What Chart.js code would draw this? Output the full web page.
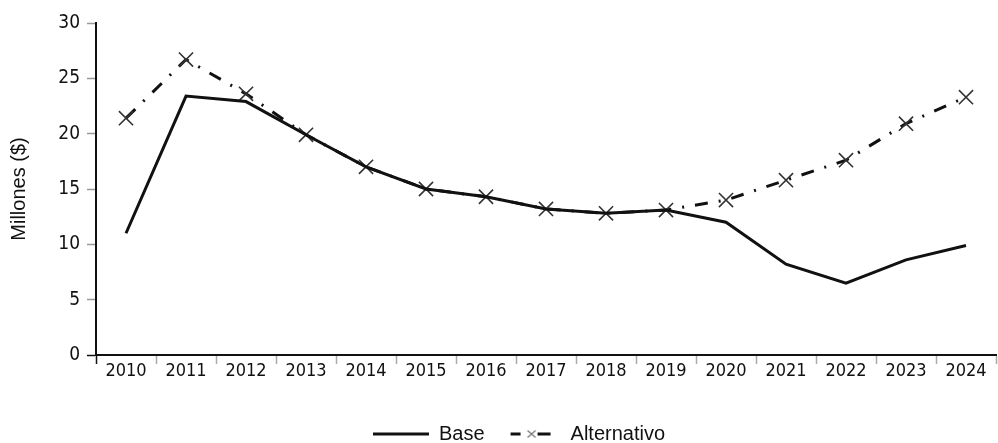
<!DOCTYPE html>
<html>
<head>
<meta charset="utf-8">
<script src="https://cdn.jsdelivr.net/npm/chart.js@4"></script>
<style>
  html, body { margin: 0; padding: 0; background: #fff; }
  #wrap { width: 998px; height: 443px; }
</style>
</head>
<body>
<div id="wrap"><canvas id="lineChart"></canvas></div>
<script>
// data
var years = ['2010', '2011', '2012', '2013', '2014', '2015', '2016', '2017', '2018', '2019', '2020', '2021', '2022', '2023', '2024'];
var baseValues = [11.0, 23.4, 22.9, 19.9, 17.0, 15.0, 14.3, 13.2, 12.8, 13.1, 12.0, 8.2, 6.5, 8.6, 9.9];
var altValues = [21.4, 26.7, 23.6, 19.9, 17.0, 15.0, 14.3, 13.2, 12.8, 13.1, 14.0, 15.8, 17.6, 20.9, 23.3];
var yTicks = [0, 5, 10, 15, 20, 25, 30];

var tickFont = 'DejaVu Sans Condensed, DejaVu Sans, sans-serif';
var textFont = 'Liberation Sans, Arial, sans-serif';

// legend symbols, both 66px wide so the legend boxes line up
function makeBaseSymbol() {
    var c = document.createElement('canvas');
    c.width = 66; c.height = 12;
    var ctx = c.getContext('2d');
    ctx.strokeStyle = '#111';
    ctx.lineWidth = 3;
    ctx.beginPath();
    ctx.moveTo(10, 6); ctx.lineTo(66, 6);
    ctx.stroke();
    return c;
}
function makeAltSymbol() {
    var c = document.createElement('canvas');
    c.width = 66; c.height = 12;
    var ctx = c.getContext('2d');
    ctx.strokeStyle = '#111';
    ctx.lineWidth = 3;
    ctx.beginPath();
    ctx.moveTo(16, 6); ctx.lineTo(26, 6);
    ctx.moveTo(43, 6); ctx.lineTo(56, 6);
    ctx.stroke();
    ctx.strokeStyle = '#777';
    ctx.lineWidth = 1.2;
    ctx.beginPath();
    ctx.moveTo(33, 2.5); ctx.lineTo(41, 9.5);
    ctx.moveTo(41, 2.5); ctx.lineTo(33, 9.5);
    ctx.stroke();
    return c;
}

var line = new Chart(document.getElementById('lineChart'), {
    type: 'line',
    data: {
        labels: years,
        datasets: [{
            label: 'Base',
            data: baseValues,
            borderColor: '#111',
            borderWidth: 3,
            pointRadius: 0,
            tension: 0
        }, {
            label: 'Alternativo',
            data: altValues,
            borderColor: '#111',
            borderWidth: 3,
            borderDash: [13, 11, 2, 11],
            pointStyle: 'crossRot',
            pointRadius: 10,
            pointBorderColor: '#333',
            pointBorderWidth: 1.6,
            tension: 0
        }]
    },
    options: {
        responsive: true,
        maintainAspectRatio: false,
        animation: false,
        layout: { autoPadding: false, padding: { top: 23, right: 2, left: 32, bottom: -11 } },
        plugins: {
            tooltip: { enabled: false },
            legend: {
                position: 'bottom',
                labels: {
                    usePointStyle: true,
                    pointStyleWidth: 66,
                    color: '#111',
                    font: { family: textFont, size: 20 },
                    padding: 10,
                    generateLabels: function(chart) {
                        return [
                            { text: 'Base', pointStyle: makeBaseSymbol(), datasetIndex: 0, lineWidth: 0, fillStyle: 'transparent', strokeStyle: 'transparent', fontColor: '#111' },
                            { text: 'Alternativo', pointStyle: makeAltSymbol(), datasetIndex: 1, lineWidth: 0, fillStyle: 'transparent', strokeStyle: 'transparent', fontColor: '#111' }
                        ];
                    }
                }
            }
        },
        scales: {
            x: {
                offset: true,
                grid: {
                    offset: true,
                    drawOnChartArea: false,
                    tickLength: 9,
                    color: function(ctx) {
                        if (ctx.index === 0) return '#111';
                        if (ctx.index >= years.length) return 'rgba(0,0,0,0)';
                        return '#aaa';
                    },
                    tickWidth: 1.5
                },
                border: { color: '#111', width: 2 },
                ticks: {
                    color: '#111',
                    padding: -3,
                    maxRotation: 0,
                    autoSkip: false,
                    font: { family: tickFont, size: 18 }
                },
                afterFit: function(scale) { scale.height = 59; }
            },
            y: {
                min: 0,
                max: 30,
                afterBuildTicks: function(scale) {
                    scale.ticks = yTicks.map(function(v) { return { value: v }; });
                },
                grid: {
                    drawOnChartArea: false,
                    tickLength: 9,
                    color: function(ctx) {
                        return ctx.index === 0 ? '#111' : '#999';
                    },
                    tickWidth: 1.5
                },
                border: { color: '#111', width: 2 },
                ticks: {
                    color: '#111',
                    padding: 7,
                    font: { family: tickFont, size: 19 }
                },
                title: {
                    display: true,
                    text: 'Millones ($)',
                    color: '#111',
                    padding: { top: -25, bottom: 0 },
                    font: { family: textFont, size: 20 }
                },
                afterFit: function(scale) { scale.width = 64; }
            }
        }
    }
});
</script>
</body>
</html>
